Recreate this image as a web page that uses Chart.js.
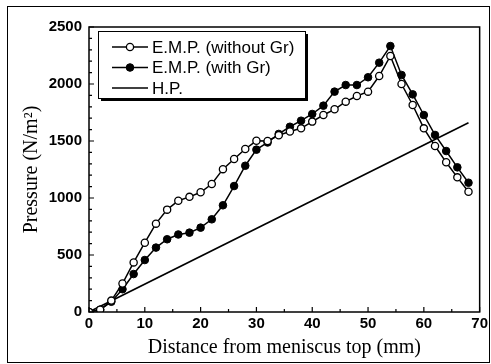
<!DOCTYPE html>
<html>
<head>
<meta charset="utf-8">
<script src="https://cdn.jsdelivr.net/npm/chart.js@4.4.1/dist/chart.umd.min.js"></script>
<style>
  body { margin: 0; background: #fff; }
  canvas { display: block; }
</style>
</head>
<body>
<canvas id="pressure-chart" width="491" height="364"></canvas>
<script>
// distance from meniscus top (mm), one reading every 2 mm
var distance = [0, 2, 4, 6, 8, 10, 12, 14, 16, 18, 20, 22, 24, 26, 28, 30, 32, 34,
  36, 38, 40, 42, 44, 46, 48, 50, 52, 54, 56, 58, 60, 62, 64, 66, 68];
var empWithoutGr = [0, 20, 100, 250, 435, 608, 775, 898, 976, 1010, 1050, 1123, 1253, 1342, 1430, 1502, 1500, 1550,
  1583, 1611, 1670, 1728, 1778, 1845, 1895, 1933, 2070, 2246, 2000, 1816, 1611, 1456, 1313, 1181, 1055];
var empWithGr = [0, 20, 90, 200, 333, 456, 565, 638, 680, 696, 740, 813, 936, 1105, 1283, 1424, 1487, 1562,
  1625, 1678, 1737, 1810, 1933, 1991, 1991, 2059, 2187, 2333, 2079, 1909, 1728, 1553, 1412, 1269, 1134];
var hpDistance = [0, 68];
var hpPressure = [0, 1660];
var xMinorTicks = [5, 15, 25, 35, 45, 55, 65];
var yMinorTicks = [100, 200, 300, 400, 600, 700, 800, 900, 1100, 1200, 1300, 1400,
  1600, 1700, 1800, 1900, 2100, 2200, 2300, 2400];

function points(xs, ys) {
  return xs.map(function (x, i) { return { x: x, y: ys[i] }; });
}

var tickFont = { family: 'Liberation Sans, Arial, sans-serif', size: 15, weight: 'bold' };
var titleFont = { family: 'Liberation Serif, Times New Roman, serif', size: 20 };

// frame, inward ticks, legend box with shadow, outer border
var paperPlugin = {
  id: 'paper',
  afterDraw: function (chart) {
    var ctx = chart.ctx;
    var a = chart.chartArea;
    var xs = chart.scales.x, ys = chart.scales.y;
    ctx.save();
    ctx.strokeStyle = '#000';

    // outer figure border
    ctx.lineWidth = 1;
    ctx.strokeRect(7.5, 6.5, 482, 356);

    // plot frame
    ctx.lineWidth = 1.5;
    ctx.strokeRect(a.left, a.top, a.right - a.left, a.bottom - a.top);

    // ticks pointing inward
    ctx.lineWidth = 1.2;
    ctx.beginPath();
    xs.ticks.forEach(function (t) {
      var px = xs.getPixelForValue(t.value);
      ctx.moveTo(px, a.bottom); ctx.lineTo(px, a.bottom - 5);
    });
    xMinorTicks.forEach(function (v) {
      var px = xs.getPixelForValue(v);
      ctx.moveTo(px, a.bottom); ctx.lineTo(px, a.bottom - 3);
    });
    ys.ticks.forEach(function (t) {
      var py = ys.getPixelForValue(t.value);
      ctx.moveTo(a.left, py); ctx.lineTo(a.left + 5, py);
    });
    yMinorTicks.forEach(function (v) {
      var py = ys.getPixelForValue(v);
      ctx.moveTo(a.left, py); ctx.lineTo(a.left + 3, py);
    });
    ctx.stroke();

    // legend
    var bx = 98, by = 31, bw = 207, bh = 67;
    ctx.fillStyle = '#000';
    ctx.fillRect(bx + 3, by + 3, bw, bh);
    ctx.fillStyle = '#fff';
    ctx.fillRect(bx, by, bw, bh);
    ctx.lineWidth = 1;
    ctx.strokeRect(bx + 0.5, by + 0.5, bw, bh);

    ctx.font = '17px Liberation Sans, Arial, sans-serif';
    ctx.textBaseline = 'middle';
    chart.data.datasets.forEach(function (ds, i) {
      var ry = by + 16 + i * 20.5;
      ctx.strokeStyle = '#000';
      ctx.lineWidth = 1.3;
      ctx.beginPath();
      ctx.moveTo(112, ry); ctx.lineTo(148, ry);
      ctx.stroke();
      if (ds.pointRadius > 0) {
        ctx.beginPath();
        ctx.arc(130, ry, ds.pointRadius, 0, Math.PI * 2);
        ctx.fillStyle = ds.pointBackgroundColor;
        ctx.fill();
        ctx.lineWidth = ds.pointBorderWidth;
        ctx.stroke();
      }
      ctx.fillStyle = '#000';
      ctx.fillText(ds.label, 152, ry + 1);
    });
    ctx.restore();
  }
};

var pressureChart = new Chart(document.getElementById('pressure-chart').getContext('2d'), {
  type: 'line',
  data: {
    datasets: [{
      label: 'E.M.P. (without Gr)',
      data: points(distance, empWithoutGr),
      borderColor: '#000',
      borderWidth: 1.5,
      pointRadius: 3.6,
      pointBackgroundColor: '#fff',
      pointBorderColor: '#000',
      pointBorderWidth: 1.3,
      tension: 0
    }, {
      label: 'E.M.P. (with Gr)',
      data: points(distance, empWithGr),
      borderColor: '#000',
      borderWidth: 1.5,
      pointRadius: 3.8,
      pointBackgroundColor: '#000',
      pointBorderColor: '#000',
      pointBorderWidth: 1,
      tension: 0
    }, {
      label: 'H.P.',
      data: points(hpDistance, hpPressure),
      borderColor: '#000',
      borderWidth: 1.6,
      pointRadius: 0,
      tension: 0
    }]
  },
  options: {
    responsive: false,
    animation: false,
    layout: { padding: { top: 27, right: 10, left: 0, bottom: 0 } },
    plugins: {
      legend: { display: false },
      tooltip: { enabled: false }
    },
    scales: {
      x: {
        type: 'linear',
        min: 0,
        max: 70,
        ticks: { stepSize: 10, color: '#000', font: tickFont, padding: 3, callback: function (v) { return String(v); } },
        grid: { display: false, drawTicks: false },
        border: { display: false },
        title: { display: true, text: 'Distance from meniscus top (mm)', color: '#000', font: titleFont, padding: { top: 0, bottom: 4 } },
        afterFit: function (s) { s.height = 52; }
      },
      y: {
        min: 0,
        max: 2500,
        ticks: { stepSize: 500, color: '#000', font: tickFont, padding: 7, callback: function (v) { return String(v); } },
        grid: { display: false, drawTicks: false },
        border: { display: false },
        title: { display: true, text: 'Pressure (N/m\u00B2)', color: '#000', font: titleFont, padding: { top: 20, bottom: 0 } },
        afterFit: function (s) { s.width = 89; }
      }
    }
  },
  plugins: [paperPlugin]
});
</script>
</body>
</html>
